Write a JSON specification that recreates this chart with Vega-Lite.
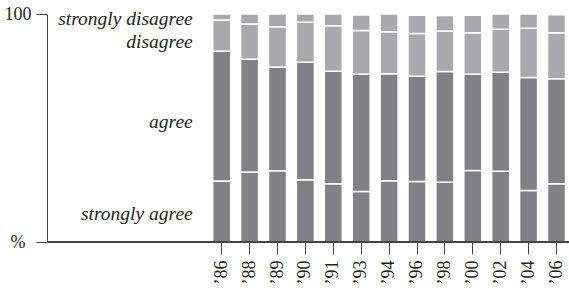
{
  "$schema": "https://vega.github.io/schema/vega-lite/v6.json",
  "width": 522,
  "height": 228,
  "autosize": {"type": "none"},
  "padding": {"left": 47, "top": 14, "right": 0, "bottom": 48},
  "config": {"view": {"stroke": null}},
  "datasets": {
    "bars": [
      {"year": "’86", "resp": "strongly agree", "rank": 1, "value": 26.7},
      {"year": "’86", "resp": "agree", "rank": 2, "value": 57.0},
      {"year": "’86", "resp": "disagree", "rank": 3, "value": 13.7},
      {"year": "’86", "resp": "strongly disagree", "rank": 4, "value": 2.6},
      {"year": "’88", "resp": "strongly agree", "rank": 1, "value": 30.7},
      {"year": "’88", "resp": "agree", "rank": 2, "value": 49.4},
      {"year": "’88", "resp": "disagree", "rank": 3, "value": 15.5},
      {"year": "’88", "resp": "strongly disagree", "rank": 4, "value": 4.4},
      {"year": "’89", "resp": "strongly agree", "rank": 1, "value": 31.3},
      {"year": "’89", "resp": "agree", "rank": 2, "value": 45.4},
      {"year": "’89", "resp": "disagree", "rank": 3, "value": 17.7},
      {"year": "’89", "resp": "strongly disagree", "rank": 4, "value": 5.6},
      {"year": "’90", "resp": "strongly agree", "rank": 1, "value": 27.3},
      {"year": "’90", "resp": "agree", "rank": 2, "value": 51.5},
      {"year": "’90", "resp": "disagree", "rank": 3, "value": 17.6},
      {"year": "’90", "resp": "strongly disagree", "rank": 4, "value": 3.6},
      {"year": "’91", "resp": "strongly agree", "rank": 1, "value": 25.6},
      {"year": "’91", "resp": "agree", "rank": 2, "value": 49.3},
      {"year": "’91", "resp": "disagree", "rank": 3, "value": 20.0},
      {"year": "’91", "resp": "strongly disagree", "rank": 4, "value": 5.1},
      {"year": "’93", "resp": "strongly agree", "rank": 1, "value": 22.1},
      {"year": "’93", "resp": "agree", "rank": 2, "value": 51.5},
      {"year": "’93", "resp": "disagree", "rank": 3, "value": 19.2},
      {"year": "’93", "resp": "strongly disagree", "rank": 4, "value": 6.8},
      {"year": "’94", "resp": "strongly agree", "rank": 1, "value": 26.9},
      {"year": "’94", "resp": "agree", "rank": 2, "value": 46.9},
      {"year": "’94", "resp": "disagree", "rank": 3, "value": 18.4},
      {"year": "’94", "resp": "strongly disagree", "rank": 4, "value": 7.8},
      {"year": "’96", "resp": "strongly agree", "rank": 1, "value": 26.5},
      {"year": "’96", "resp": "agree", "rank": 2, "value": 46.2},
      {"year": "’96", "resp": "disagree", "rank": 3, "value": 18.8},
      {"year": "’96", "resp": "strongly disagree", "rank": 4, "value": 7.9},
      {"year": "’98", "resp": "strongly agree", "rank": 1, "value": 26.2},
      {"year": "’98", "resp": "agree", "rank": 2, "value": 48.6},
      {"year": "’98", "resp": "disagree", "rank": 3, "value": 17.7},
      {"year": "’98", "resp": "strongly disagree", "rank": 4, "value": 6.8},
      {"year": "’00", "resp": "strongly agree", "rank": 1, "value": 31.4},
      {"year": "’00", "resp": "agree", "rank": 2, "value": 42.2},
      {"year": "’00", "resp": "disagree", "rank": 3, "value": 18.2},
      {"year": "’00", "resp": "strongly disagree", "rank": 4, "value": 7.6},
      {"year": "’02", "resp": "strongly agree", "rank": 1, "value": 31.0},
      {"year": "’02", "resp": "agree", "rank": 2, "value": 43.4},
      {"year": "’02", "resp": "disagree", "rank": 3, "value": 18.9},
      {"year": "’02", "resp": "strongly disagree", "rank": 4, "value": 6.7},
      {"year": "’04", "resp": "strongly agree", "rank": 1, "value": 22.6},
      {"year": "’04", "resp": "agree", "rank": 2, "value": 49.6},
      {"year": "’04", "resp": "disagree", "rank": 3, "value": 21.5},
      {"year": "’04", "resp": "strongly disagree", "rank": 4, "value": 6.3},
      {"year": "’06", "resp": "strongly agree", "rank": 1, "value": 25.6},
      {"year": "’06", "resp": "agree", "rank": 2, "value": 46.0},
      {"year": "’06", "resp": "disagree", "rank": 3, "value": 20.2},
      {"year": "’06", "resp": "strongly disagree", "rank": 4, "value": 7.9}
    ],
    "labels": [
      {"label": "strongly disagree", "pos": 97.6},
      {"label": "disagree", "pos": 87.8},
      {"label": "agree", "pos": 52.5},
      {"label": "strongly agree", "pos": 12.3}
    ]
  },
  "layer": [
    {
      "data": {"name": "bars"},
      "mark": {"type": "bar", "stroke": "white", "strokeWidth": 1.5},
      "encoding": {
        "x": {
          "field": "year",
          "type": "ordinal",
          "sort": null,
          "scale": {"range": [160.75, 523.45], "paddingInner": 0.355, "paddingOuter": 0.1775},
          "axis": {
            "title": null,
            "domain": false,
            "tickSize": 12,
            "tickColor": "#444",
            "tickWidth": 1,
            "labelAngle": -90,
            "labelAlign": "right",
            "labelBaseline": "middle",
            "labelFontSize": 18,
            "labelFont": "Liberation Serif",
            "labelColor": "#231f20",
            "labelPadding": 6
          }
        },
        "y": {
          "field": "value",
          "type": "quantitative",
          "stack": "zero",
          "scale": {"domain": [0, 100]},
          "axis": {
            "title": null,
            "values": [0, 100],
            "labelExpr": "datum.value == 0 ? '%' : datum.label",
            "grid": false,
            "tickSize": 11,
            "tickColor": "#444",
            "domainColor": "#444",
            "labelFontSize": 18,
            "labelFont": "Liberation Serif",
            "labelColor": "#231f20",
            "labelBaseline": "middle",
            "labelPadding": {"condition": {"test": "datum.value == 0", "value": 11}, "value": 5}
          }
        },
        "color": {
          "field": "resp",
          "type": "nominal",
          "scale": {
            "domain": ["strongly agree", "agree", "disagree", "strongly disagree"],
            "range": ["#808184", "#808184", "#a7a9ac", "#a7a9ac"]
          },
          "legend": null
        },
        "order": {"field": "rank", "type": "quantitative"}
      }
    },
    {
      "data": {"name": "bars"},
      "mark": {"type": "rule", "color": "#444", "strokeWidth": 1},
      "encoding": {"y": {"datum": 0}}
    },
    {
      "data": {"name": "labels"},
      "mark": {"type": "text", "align": "right", "baseline": "middle", "font": "Liberation Serif", "fontStyle": "italic", "fontSize": 19.5, "color": "#231f20", "dx": -20},
      "encoding": {
        "x": {"datum": "’86", "type": "ordinal", "bandPosition": 0},
        "y": {"field": "pos", "type": "quantitative"},
        "text": {"field": "label"}
      }
    }
  ]
}
